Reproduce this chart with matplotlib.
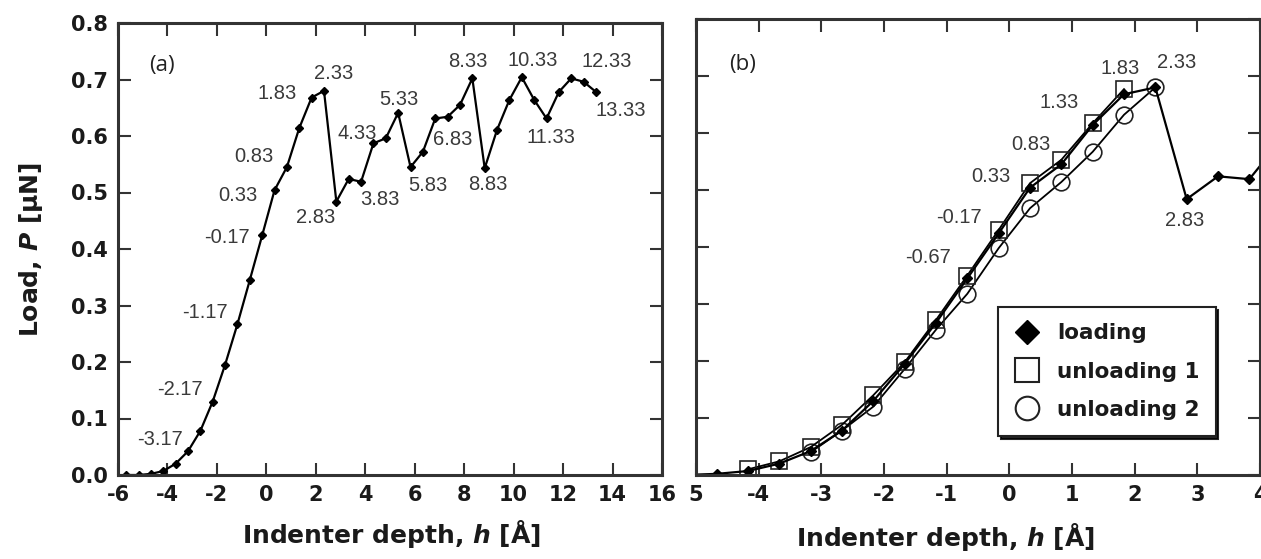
import matplotlib
matplotlib.use("Agg")
import matplotlib.pyplot as plt
from matplotlib.lines import Line2D

plt.rcParams["font.family"] = "DejaVu Sans"
plt.rcParams["axes.unicode_minus"] = False
plt.rcParams["mathtext.fontset"] = "dejavusans"

# loading curve (same run shown in both panels)
loading_h = [-5.67, -5.17, -4.67, -4.17, -3.67, -3.17, -2.67, -2.17, -1.67, -1.17,
             -0.67, -0.17, 0.33, 0.83, 1.33, 1.83, 2.33, 2.83, 3.33, 3.83,
             4.33, 4.83, 5.33, 5.83, 6.33, 6.83, 7.33, 7.83, 8.33, 8.83,
             9.33, 9.83, 10.33, 10.83, 11.33, 11.83, 12.33, 12.83, 13.33]
loading_p = [0.000, 0.000, 0.002, 0.007, 0.020, 0.042, 0.078, 0.130, 0.195, 0.267,
             0.345, 0.424, 0.504, 0.545, 0.614, 0.668, 0.680, 0.484, 0.524, 0.519,
             0.587, 0.596, 0.641, 0.545, 0.572, 0.631, 0.634, 0.655, 0.702, 0.543,
             0.611, 0.664, 0.704, 0.664, 0.631, 0.678, 0.702, 0.696, 0.678]

unload1_h = [1.83, 1.33, 0.83, 0.33, -0.17, -0.67, -1.17, -1.67, -2.17, -2.67, -3.17, -3.67, -4.17]
unload1_p = [0.677, 0.617, 0.553, 0.512, 0.430, 0.350, 0.272, 0.198, 0.140, 0.088, 0.049, 0.024, 0.010]

unload2_h = [2.33, 1.83, 1.33, 0.83, 0.33, -0.17, -0.67, -1.17, -1.67, -2.17, -2.67, -3.17]
unload2_p = [0.680, 0.632, 0.567, 0.514, 0.468, 0.398, 0.318, 0.255, 0.186, 0.120, 0.078, 0.040]

labels_a = ["-3.17", "-2.17", "-1.17", "-0.17", "0.33", "0.83", "1.83", "2.33", "2.83",
            "4.33", "3.83", "5.33", "5.83", "6.83", "8.33", "8.83", "10.33", "11.33",
            "12.33", "13.33"]
labels_b = ["-0.67", "-0.17", "0.33", "0.83", "1.33", "1.83", "2.33", "2.83"]

y_ticks = [0.0, 0.1, 0.2, 0.3, 0.4, 0.5, 0.6, 0.7, 0.8]
y_tick_labels = ["0.0", "0.1", "0.2", "0.3", "0.4", "0.5", "0.6", "0.7", "0.8"]
a_x_ticks = [-6, -4, -2, 0, 2, 4, 6, 8, 10, 12, 14, 16]
a_x_tick_labels = ["-6", "-4", "-2", "0", "2", "4", "6", "8", "10", "12", "14", "16"]
b_x_ticks = [-5, -4, -3, -2, -1, 0, 1, 2, 3, 4]
b_x_tick_labels = ["5", "-4", "-3", "-2", "-1", "0", "1", "2", "3", "4"]

legend_names = ["loading", "unloading 1", "unloading 2"]

# where the point labels sit (data coordinates)
pos_a = [(-4.3, 0.062), (-3.49, 0.152), (-2.48, 0.287), (-1.59, 0.421), (-1.14, 0.494),
         (-0.5, 0.563), (0.44, 0.676), (2.7, 0.711), (2.0, 0.455), (3.68, 0.605),
         (4.6, 0.487), (5.34, 0.665), (6.55, 0.513), (7.52, 0.593), (8.13, 0.731),
         (8.94, 0.515), (10.76, 0.734), (11.49, 0.598), (13.76, 0.731), (14.32, 0.646)]
pos_b = [(-1.3, 0.381), (-0.81, 0.451), (-0.3, 0.523), (0.35, 0.579), (0.8, 0.653),
         (1.77, 0.714), (2.67, 0.723), (2.8, 0.447)]

INK = "#1a1a1a"
FRAME = "#333333"


def style_axes(ax):
    for spine in ax.spines.values():
        spine.set_linewidth(2.2)
        spine.set_color(FRAME)
    ax.tick_params(direction="in", length=9, width=1.5, color=FRAME,
                   top=True, right=True, labelsize=15, labelcolor=INK, pad=7)
    ax.set_ylim(0, 0.8)
    ax.set_yticks(y_ticks)
    for lab in ax.get_xticklabels() + ax.get_yticklabels():
        lab.set_fontweight("bold")


def put_labels(ax, labels, positions):
    for text, (x, y) in zip(labels, positions):
        ax.text(x, y, text, ha="center", va="center", fontsize=14.5,
                family="Liberation Sans", color="#3a3a3a")


fig = plt.figure(figsize=(12.61, 5.59), dpi=100)
ax_a = fig.add_axes([118 / 1261, 1 - 475 / 559, 544 / 1261, 452 / 559])
ax_b = fig.add_axes([696 / 1261, 1 - 475 / 559, 564 / 1261, 456 / 559])

# panel (a)
ax_a.plot(loading_h, loading_p, color="black", lw=1.6, marker="D", ms=4)
ax_a.set_xlim(-6, 16)
ax_a.set_xticks(a_x_ticks)
ax_a.set_xticklabels(a_x_tick_labels)
ax_a.set_yticklabels(y_tick_labels)
style_axes(ax_a)
put_labels(ax_a, labels_a, pos_a)
ax_a.text(0.081, 0.905, "(a)", transform=ax_a.transAxes, ha="center", va="center",
          fontsize=16, family="Open Sans", color="#222222")
ax_a.set_ylabel(r"Load, $\mathbfit{P}$ [μN]", fontsize=18, fontweight="bold", color=INK)
ax_a.yaxis.set_label_coords(-0.135, 0.5)
ax_a.set_xlabel(r"Indenter depth, $\mathbfit{h}$ [Å]", fontsize=18, fontweight="bold", color=INK)
ax_a.xaxis.set_label_coords(0.502, -0.095)

# panel (b)
ax_b.plot(unload2_h, unload2_p, color="black", lw=1.3, marker="o", ms=12,
          mfc="none", mec="#222222", mew=1.2)
ax_b.plot(unload1_h, unload1_p, color="black", lw=1.3, marker="s", ms=11,
          mfc="none", mec="#222222", mew=1.2)
ax_b.plot(loading_h, loading_p, color="black", lw=1.6, marker="D", ms=5)
ax_b.set_xlim(-5, 4)
ax_b.set_xticks(b_x_ticks)
ax_b.set_xticklabels(b_x_tick_labels)
ax_b.set_yticklabels([])
style_axes(ax_b)
put_labels(ax_b, labels_b, pos_b)
ax_b.text(0.083, 0.9, "(b)", transform=ax_b.transAxes, ha="center", va="center",
          fontsize=16, family="Open Sans", color="#222222")
ax_b.set_xlabel(r"Indenter depth, $\mathbfit{h}$ [Å]", fontsize=18, fontweight="bold", color=INK)
ax_b.xaxis.set_label_coords(0.443, -0.1)

handles = [
    Line2D([], [], ls="none", marker="D", ms=12, color="black"),
    Line2D([], [], ls="none", marker="s", ms=17, mfc="none", mec="#222222", mew=1.5),
    Line2D([], [], ls="none", marker="o", ms=17, mfc="none", mec="#222222", mew=1.5),
]
leg = ax_b.legend(handles, legend_names, loc="upper left", bbox_to_anchor=(0.535, 0.368),
                  borderaxespad=0, prop={"size": 15.5, "weight": "bold"}, frameon=True,
                  fancybox=False, shadow={"color": "black", "alpha": 0.85},
                  labelspacing=0.85, handletextpad=0.8, borderpad=0.75, handlelength=1.2)
leg.get_frame().set_edgecolor("#222222")
leg.get_frame().set_linewidth(1.5)
for t in leg.get_texts():
    t.set_color(INK)

fig.savefig("out.png", dpi=100)
